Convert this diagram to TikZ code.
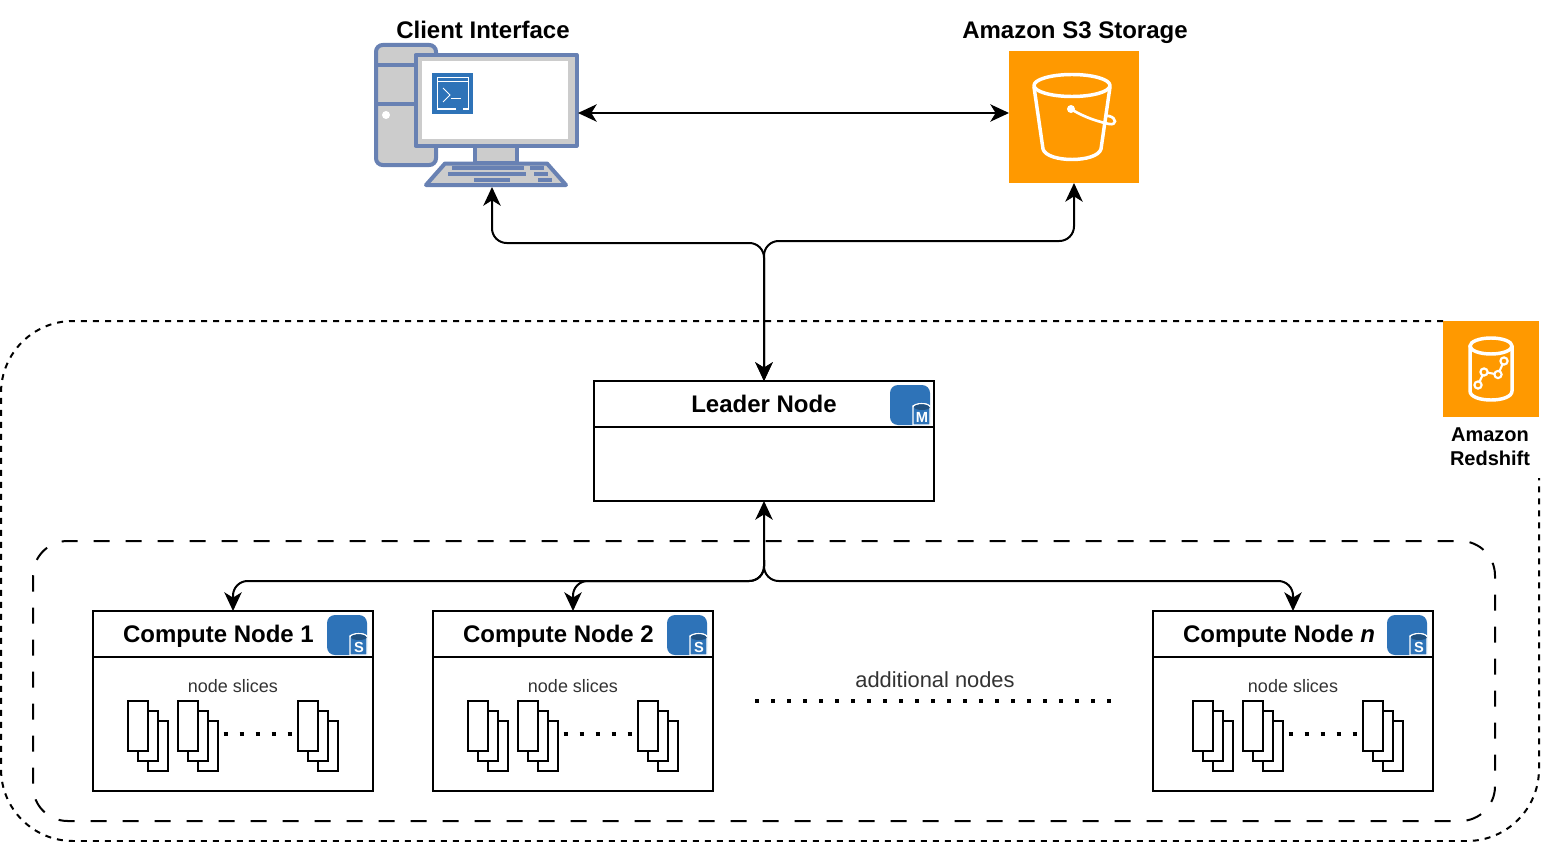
\documentclass[tikz,border=0pt]{standalone}
\usepackage{fontspec}
\setmainfont{Liberation Sans}
\usetikzlibrary{arrows.meta}
\definecolor{iconblue}{HTML}{2E73B8}
\definecolor{pcblue}{HTML}{6881B3}
\definecolor{pcgray}{HTML}{CCCCCC}
\definecolor{awsorange}{HTML}{FF9900}
\definecolor{subtext}{HTML}{333333}
\tikzset{
  ln/.style={line width=1.5pt,draw=black},
  box/.style={rectangle,draw=black,line width=1.5pt,fill=white,outer sep=0pt,inner sep=0pt},
  awsbox/.style={rectangle,fill=awsorange,outer sep=0pt,inner sep=0pt},
  wire/.style={line width=1.5pt,rounded corners=11pt,{Stealth[length=14pt,width=13pt,inset=4pt]}-{Stealth[length=14pt,width=13pt,inset=4pt]}},
  wireend/.style={line width=1.5pt,rounded corners=11pt,-{Stealth[length=14pt,width=13pt,inset=4pt]}},
  ttl/.style={font=\fontsize{18pt}{21pt}\selectfont\bfseries,inner sep=0pt,align=center,text height=12.8pt,text depth=0pt},
  small/.style={font=\fontsize{13.5pt}{16pt}\selectfont,text=subtext,inner sep=0pt},
  sheet/.style={draw=black,fill=white,line width=1.5pt},
  squaredots/.style={line width=3pt,dash pattern=on 3pt off 9pt},
  pc/.style={draw=pcblue,line width=3pt,fill=pcgray,line join=round},
  key/.style={fill=pcblue,draw=none},
  wl/.style={draw=white,line width=2.6pt,line cap=round,line join=round},
}
\newcommand{\dbicon}[3]{%
  \begin{scope}[shift={(#1,#2)}]
    \fill[iconblue,rounded corners=6pt] (0,0) rectangle (40,40);
    \path[fill=iconblue,draw=white,line width=1pt] (23,24) -- (23,40) -- (40,40) -- (40,21) -- (36,19) -- (30,19) -- (23,21) -- cycle;
    \fill[iconblue!70!black] (32,22) ellipse (8 and 3);
    \draw[white,line width=0.8pt] (23,22) arc[start angle=180,end angle=360,x radius=8.5,y radius=3.5];
    \node[inner sep=0pt,text=white,font=\fontsize{11pt}{12pt}\selectfont\bfseries] at (32,32.5) {#3};
  \end{scope}}
\newcommand{\stack}[2]{%
  \draw[sheet] (#1+20,#2+20) rectangle (#1+40,#2+70);
  \draw[sheet] (#1+10,#2+10) rectangle (#1+30,#2+60);
  \draw[sheet] (#1,#2) rectangle (#1+20,#2+50);}
\newcommand{\computecontent}[3]{%
  \draw[ln] (#1.west |- 0,657) -- (#1.east |- 0,657);
  \begin{scope}[shift={(#3,0)}]
    \stack{128}{701}\stack{178}{701}\stack{298}{701}
    \draw[squaredots] (223.5,733.5) -- (296,733.5);
  \end{scope}
  \begin{scope}[shift={(#2,0)}]
    \dbicon{327}{615}{S}
    \node[small] at (233,686) {node slices};
  \end{scope}}
\begin{document}
\begin{tikzpicture}[x=0.75pt,y=-0.75pt]
\useasboundingbox (0,0) rectangle (1542,842);
\fill[white] (0,0) rectangle (1542,842);

% containers
\draw[line width=1.5pt,dash pattern=on 4.5pt off 4.5pt,rounded corners=54pt]
  (1443,321) -- (1,321) -- (1,841) -- (1539,841) -- (1539,478);
\draw[line width=1.5pt,dash pattern=on 12pt off 12pt,rounded corners=26pt]
  (33,541) rectangle (1495,821);

% client computer
\coordinate (clientR) at (578,113);
\coordinate (clientB) at (492,187);
\draw[pc,rounded corners=5pt] (376,45) rectangle (436,165);
\draw[pc] (376,65) -- (436,65);
\draw[pc] (376,104.5) -- (436,104.5);
\fill[white] (386,115) circle (4);
\draw[pc] (475,146) rectangle (517,163);
\draw[pc] (415.5,55) rectangle (576.5,145.5);
\fill[white] (422,61) rectangle (568,139);
\draw[pc] (445,163.5) -- (547,163.5) -- (566,185) -- (426,185) -- cycle;
\foreach \a/\b/\yy in {452/524/166,530/544/166,448/526/172,534/548/172,474/510/178,538/552/178}
  \fill[key] (\a,\yy) rectangle (\b,\yy+4);
\fill[iconblue] (432,73) rectangle (473,114);
\draw[white,line width=0.75pt] (456,109) -- (437,109) -- (437,78) -- (468,78) -- (468,109) -- (463,109);
\draw[white,line width=0.75pt] (437,82) -- (468,82);
\draw[white,line width=0.75pt] (443,88) -- (450,95) -- (443,102);
\draw[white,line width=0.75pt] (451,99) -- (461,99);
\node[ttl] (clientlabel) at (483,30) {Client Interface};

% S3
\node[awsbox,minimum width=97.5pt,minimum height=99pt] (s3) at (1074,117) {};
\draw[wl] (1072,85.5) ellipse (38 and 11);
\draw[wl] (1034,87) -- (1043,149) .. controls (1047,163) and (1097,163) .. (1101,149) -- (1110,87);
\fill[white] (1071,109) circle (4);
\draw[white,line width=2pt] (1071,109) .. controls (1085,118) and (1100,122) .. (1109,124) .. controls (1117,125.5) and (1117,118) .. (1109,116) .. controls (1107,115.5) and (1106,116) .. (1105,117);
\node[ttl] (s3label) at (1075,30) {Amazon S3 Storage};

% Redshift
\node[awsbox,minimum width=72pt,minimum height=72pt] (rs) at (1491,369) {};
\draw[wl] (1491,346) ellipse (21 and 8);
\draw[wl] (1470,346) -- (1470,391) .. controls (1470,403) and (1512,403) .. (1512,391) -- (1512,346);
\draw[white,line width=1.6pt] (1478,385) -- (1484,372) -- (1498,374.5) -- (1504,361);
\foreach \a/\b in {1478/385,1484/372,1498/374.5,1504/361}
  \draw[white,fill=awsorange,line width=1.6pt] (\a,\b) circle (3.6);
\node[inner sep=0pt,align=center,font=\fontsize{15pt}{18pt}\selectfont\bfseries] (rslabel) at (1490,447) {Amazon\\Redshift};

% leader
\node[box,minimum width=255pt,minimum height=90pt] (leader) at (764,441) {};
\draw[ln] (leader.west |- 0,427) -- (leader.east |- 0,427);
\node[ttl] (leaderlabel) at (764,404) {Leader Node};
\dbicon{890}{385}{M}

% compute nodes
\node[box,minimum width=210pt,minimum height=135pt] (comp1) at (233,701) {};
\node[box,minimum width=210pt,minimum height=135pt] (comp2) at (573,701) {};
\node[box,minimum width=210pt,minimum height=135pt] (compn) at (1293,701) {};
\computecontent{comp1}{0}{0}
\computecontent{comp2}{340}{340}
\computecontent{compn}{1060}{1065}
\node[ttl] (c1label) at (218.5,634) {Compute Node 1};
\node[ttl] (c2label) at (558.5,634) {Compute Node 2};
\node[ttl] (cnlabel) at (1279,634) {Compute Node \textit{n}};

% additional nodes
\coordinate (addA) at (755,700.5);
\coordinate (addB) at (1113,700.5);
\draw[squaredots] (addA) -- (addB);
\node[inner sep=0pt,text=subtext,font=\fontsize{16.4pt}{19pt}\selectfont] (addlabel) at (935,680) {additional nodes};

% connectors
\draw[wire] (clientR) -- (s3.west |- clientR);
\draw[wire] (clientB) |- (764,243) -- (leader.north);
\draw[wire] (s3.south) |- (764,241) -- (leader.north);
\draw[wire] (leader.south) -- (764,581) -| (comp1.north);
\draw[wireend] (764,560) -- (764,581) -| (comp2.north);
\draw[wireend] (764,560) -- (764,581) -| (compn.north);
\end{tikzpicture}
\end{document}
